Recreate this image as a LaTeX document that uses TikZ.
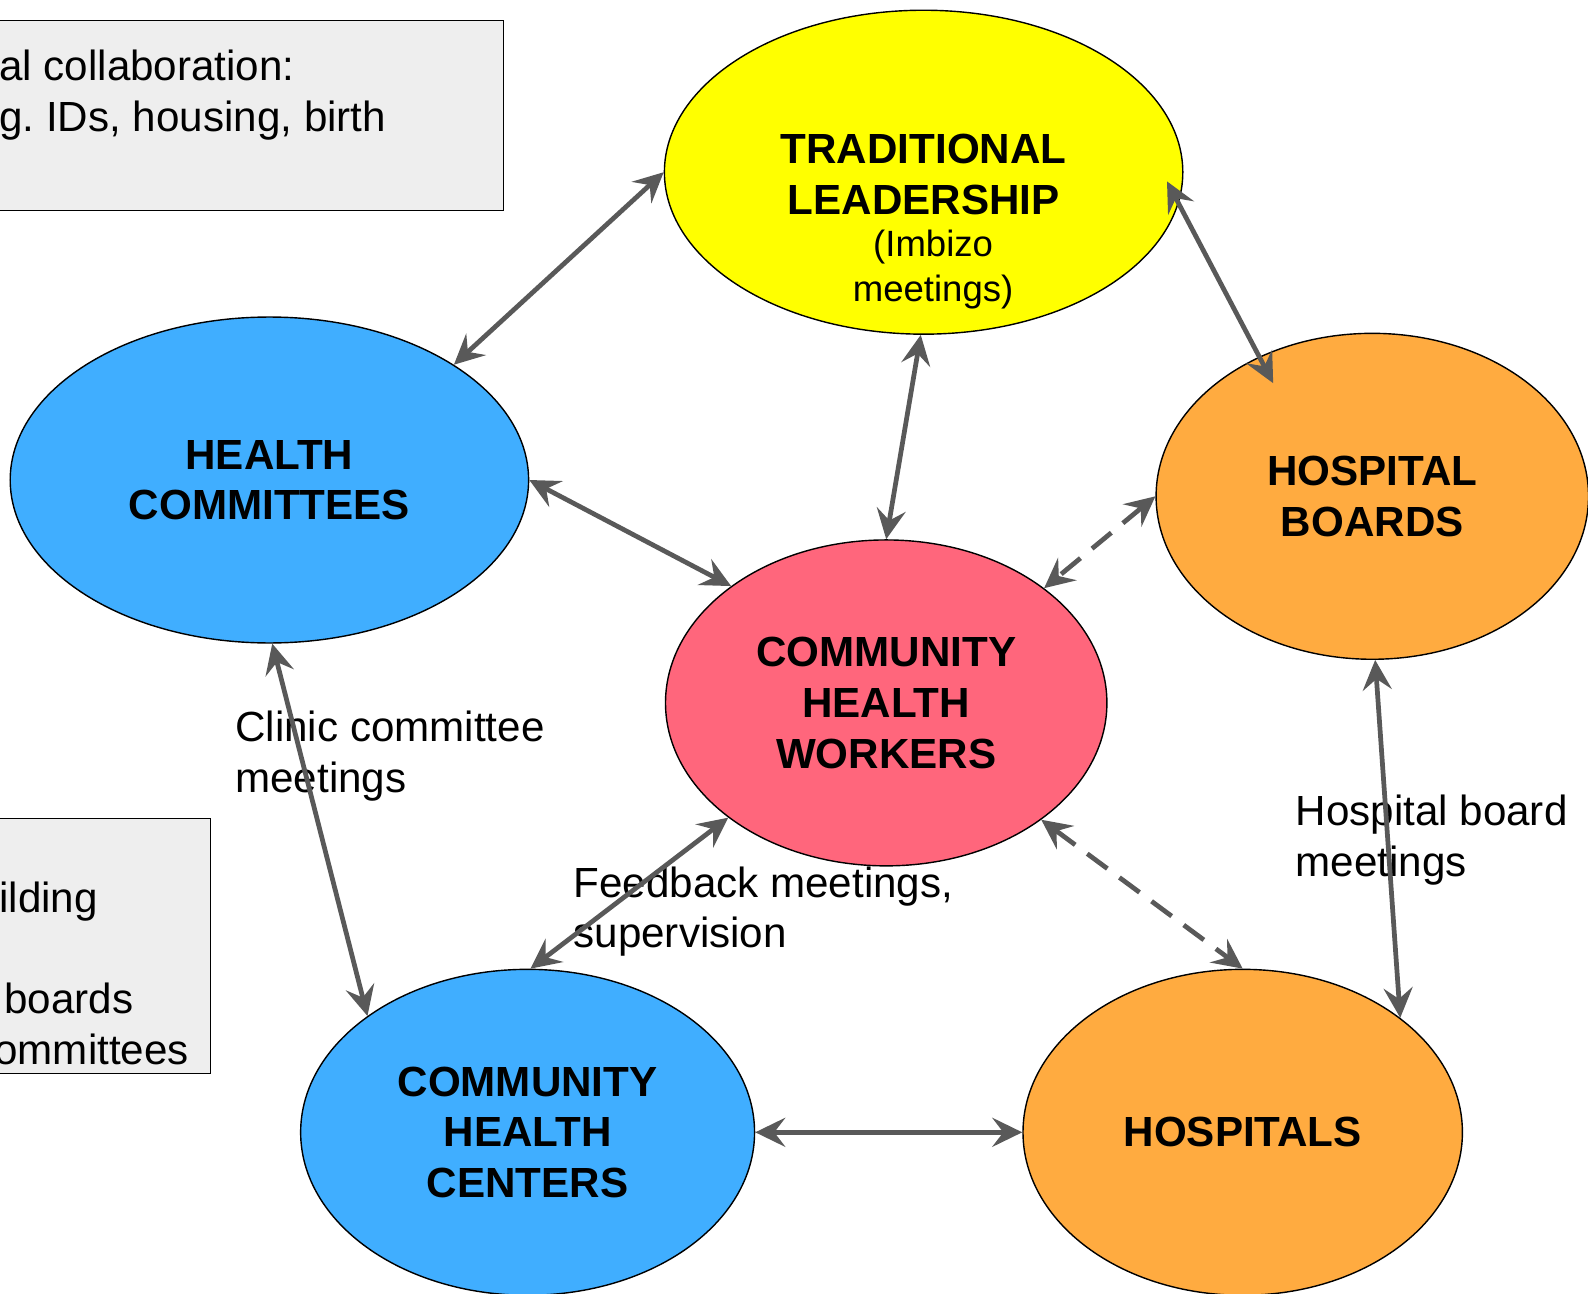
\documentclass[tikz,border=0pt]{standalone}
\usepackage{fontspec}
\setmainfont{Liberation Sans}
\usetikzlibrary{shapes.geometric,arrows.meta}

\definecolor{tlyellow}{HTML}{FFFF00}
\definecolor{hcblue}{HTML}{40AEFF}
\definecolor{hborange}{HTML}{FFAB40}
\definecolor{chwred}{HTML}{FF667C}
\definecolor{boxgrey}{HTML}{EEEEEE}
\definecolor{linkgrey}{HTML}{595959}
\newcommand{\bigfont}{\fontsize{24}{28.8}\selectfont}
\newcommand{\smallfont}{\fontsize{20.8}{25.9}\selectfont}

\tikzset{
  actor/.style={shape=ellipse, draw=black, line width=0.8pt, inner sep=0pt,
    align=center, font=\bigfont\bfseries, minimum height=6.52cm},
  link/.style={line width=2.7pt, draw=linkgrey,
    {Stealth[length=0.6cm,width=0.58cm,inset=0.22cm]}-{Stealth[length=0.6cm,width=0.58cm,inset=0.22cm]}},
  weak/.style={link, dash pattern=on 0.5cm off 0.3cm},
  note/.style={font=\bigfont, align=left, inner sep=0pt, anchor=north west},
  infobox/.style={draw=black, line width=0.8pt, fill=boxgrey}
}

\begin{document}
\begin{tikzpicture}[x=0.02cm, y=-0.02cm]
\useasboundingbox (0,0) rectangle (1588,1294);

% grey side boxes, cut off at the left edge
\draw[infobox] (-20,20.3) rectangle (503.3,210.7);
\node[note] (collab) at (-1,50) {al collaboration:\\g.\ IDs, housing, birth};
\draw[infobox] (-20,818.3) rectangle (210.7,1073.5);
\node[note] (capacity) at (-6,881.6) {\hspace*{0.1cm}ilding\\ \\\hspace*{0.2cm}boards\\ommittees};

% actors
\node[actor, fill=tlyellow, minimum width=10.37cm, minimum height=6.48cm] (tl) at (923.6,172.2) {};
\node[align=center, inner sep=0pt, anchor=north, font=\bigfont\bfseries] (tltext) at (923.6,133.7)
  {TRADITIONAL\\LEADERSHIP\\[-4.7pt]{\smallfont\mdseries\hspace*{0.38cm}(Imbizo}\\[-2.9pt]{\smallfont\mdseries\hspace*{0.38cm}meetings)}};
\node[actor, fill=hcblue, minimum width=10.37cm] (hc) at (269.4,480) {HEALTH\\COMMITTEES};
\node[actor, fill=hborange, minimum width=8.65cm] (hb) at (1372.3,496.3) {HOSPITAL\\BOARDS};
\node[actor, fill=chwred, minimum width=8.83cm] (chw) at (886.2,702.9) {COMMUNITY\\HEALTH\\WORKERS};
\node[actor, fill=hcblue, minimum width=9.08cm] (chc) at (527.6,1132.3) {COMMUNITY\\HEALTH\\CENTERS};
\node[actor, fill=hborange, minimum width=8.79cm] (h) at (1242.7,1132.3) {HOSPITALS};

% meeting labels
\node[note] (clinic) at (235,710.5) {Clinic committee\\meetings};
\node[note] (feedback) at (573.2,866.4) {Feedback meetings,\\supervision};
\node[note] (hospboard) at (1295.3,794.6) {Hospital board\\meetings};

% links
\draw[link] (hc.32.6) -- (tl.180);
\draw[link] (tl.269) -- (chw.90);
\draw[link, shorten <=-0.5cm, shorten >=-0.6cm] (tl.-7) -- (hb.129);
\draw[link] (hc.0) -- (chw.143.5);
\draw[weak] (hb.180) -- (chw.36.6);
\draw[link] (hc.271) -- (chc.144);
\draw[link] (chw.216.7) -- (chc.89);
\draw[weak] (chw.323.4) -- (h.90);
\draw[link] (hb.271) -- (h.36.8);
\draw[link] (chc.0) -- (h.180);
\end{tikzpicture}
\end{document}
